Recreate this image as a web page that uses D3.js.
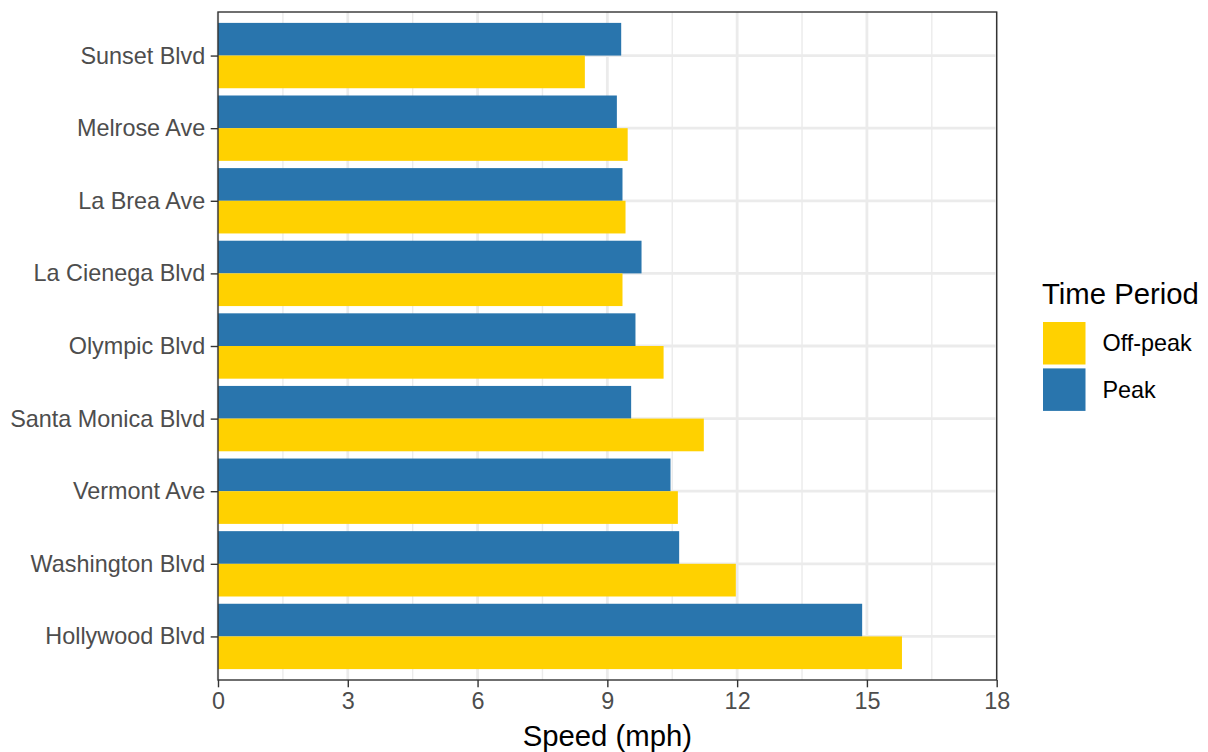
<!DOCTYPE html>
<html>
<head>
<meta charset="utf-8">
<script src="https://cdn.jsdelivr.net/npm/d3@7"></script>
<style>
body{margin:0;background:#fff;}
text{font-family:"Liberation Sans",Arial,sans-serif;}
</style>
</head>
<body>
<svg id="chart" width="1208" height="752"></svg>
<script>
const streets = ["Sunset Blvd","Melrose Ave","La Brea Ave","La Cienega Blvd","Olympic Blvd","Santa Monica Blvd","Vermont Ave","Washington Blvd","Hollywood Blvd"];
const peak    = [9.32, 9.22, 9.35, 9.79, 9.65, 9.55, 10.46, 10.66, 14.89];
const offPeak = [8.48, 9.47, 9.42, 9.35, 10.30, 11.23, 10.63, 11.97, 15.81];
const periods = ["Off-peak","Peak"];
const periodColors = ["#FFD100","#2975AD"];
const xTicks = [0,3,6,9,12,15,18];
const xMinor = [1.5,4.5,7.5,10.5,13.5,16.5];

const svg = d3.select("#chart");
const L = 218, R = 996.7, T = 12, B = 680;

const x = d3.scaleLinear().domain([0,18]).range([L,R]);
const n = streets.length;
const unit = (B - T) / (n - 1 + 1.2);
const y = d3.scalePoint().domain(streets).range([T + 0.6*unit, B - 0.6*unit]);
const barH = 0.45 * unit;
const color = d3.scaleOrdinal().domain(periods).range(periodColors);

svg.append("rect").attr("x",0).attr("y",0).attr("width",1208).attr("height",752).attr("fill","#fff");

// grid
const g = svg.append("g");
g.selectAll(".minor").data(xMinor).enter().append("line")
  .attr("x1",d=>x(d)).attr("x2",d=>x(d)).attr("y1",T).attr("y2",B)
  .attr("stroke","#ebebeb").attr("stroke-width",1.4);
g.selectAll(".major").data(xTicks).enter().append("line")
  .attr("x1",d=>x(d)).attr("x2",d=>x(d)).attr("y1",T).attr("y2",B)
  .attr("stroke","#ebebeb").attr("stroke-width",2.8);
g.selectAll(".hmajor").data(streets).enter().append("line")
  .attr("x1",L).attr("x2",R).attr("y1",d=>y(d)).attr("y2",d=>y(d))
  .attr("stroke","#ebebeb").attr("stroke-width",2.8);

// bars
const data = [];
streets.forEach((s,i)=>{
  data.push({street:s, period:"Peak", value:peak[i], off:-1});
  data.push({street:s, period:"Off-peak", value:offPeak[i], off:0});
});
svg.append("g").selectAll("rect").data(data).enter().append("rect")
  .attr("x",x(0))
  .attr("y",d=>y(d.street) + d.off*barH)
  .attr("width",d=>x(d.value)-x(0))
  .attr("height",barH)
  .attr("fill",d=>color(d.period));

// panel border
svg.append("rect").attr("x",L).attr("y",T).attr("width",R-L).attr("height",B-T)
  .attr("fill","none").attr("stroke","#333333").attr("stroke-width",1.4);

// x axis
const xAxis = svg.append("g").attr("transform",`translate(0,${B})`)
  .call(d3.axisBottom(x).tickValues(xTicks).tickSize(7.3).tickPadding(5.5).tickFormat(d3.format("d")));
xAxis.select(".domain").remove();
xAxis.selectAll(".tick line").attr("stroke","#333333").attr("stroke-width",1.4);
xAxis.selectAll(".tick text").attr("fill","#4D4D4D").style("font-size","23.4px")
  .style("font-family","'Liberation Sans',Arial,sans-serif");

// y axis
const yAxis = svg.append("g").attr("transform",`translate(${L},0)`)
  .call(d3.axisLeft(y).tickSize(7.3).tickPadding(5.5));
yAxis.select(".domain").remove();
yAxis.selectAll(".tick line").attr("stroke","#333333").attr("stroke-width",1.4);
yAxis.selectAll(".tick text").attr("fill","#4D4D4D").style("font-size","23.4px")
  .style("font-family","'Liberation Sans',Arial,sans-serif");

// axis title
svg.append("text").attr("x",(L+R)/2).attr("y",746).attr("text-anchor","middle")
  .style("font-size","29.3px").attr("fill","#000").text("Speed (mph)");

// legend
const lg = svg.append("g");
lg.append("text").attr("x",1042).attr("y",304).style("font-size","29.3px").attr("fill","#000").text("Time Period");
const keyTop = 322, keyStep = 46.4, keyS = 42.5;
periods.forEach((p,i)=>{
  lg.append("rect").attr("x",1043).attr("y",keyTop + i*keyStep).attr("width",keyS).attr("height",keyS)
    .attr("fill",color(p));
  lg.append("text").attr("x",1102.5).attr("y",keyTop + i*keyStep + keyS/2).attr("dy","0.35em")
    .style("font-size","23.4px").attr("fill","#000").text(p);
});
</script>
</body>
</html>
